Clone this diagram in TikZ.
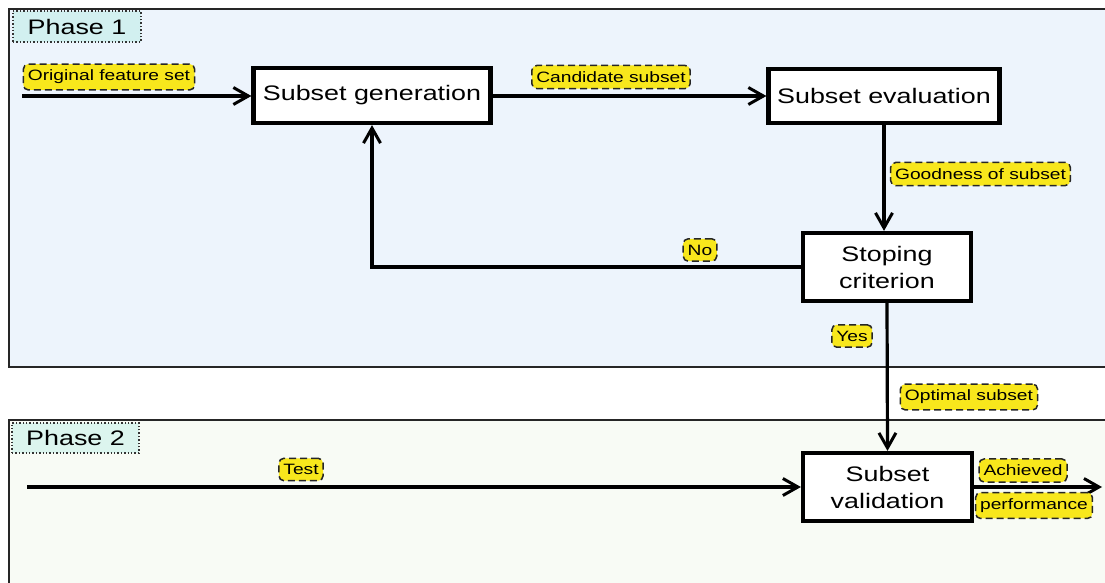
\documentclass[tikz,border=0pt]{standalone}
\usepackage{fontspec}
\setmainfont{Liberation Sans}[FakeStretch=1.28]
\usetikzlibrary{arrows.meta}
\definecolor{phaseonebg}{HTML}{EDF4FC}
\definecolor{phasetwobg}{HTML}{F8FBF5}
\definecolor{tagonebg}{HTML}{D2F0F0}
\definecolor{tagtwobg}{HTML}{DCF5EE}
\definecolor{notebg}{HTML}{F8E71C}
\tikzset{
  panel/.style={draw=black!85, line width=1.5pt},
  phasetag/.style={draw=black!80, dotted, line width=1.4pt, inner sep=0pt,
    font=\fontsize{21}{25}\selectfont},
  procbox/.style={draw=black, fill=white, line width=4.2pt, align=center,
    inner sep=0pt, font=\fontsize{21}{27}\selectfont},
  note/.style={draw=black!85, dashed, dash pattern=on 7pt off 4pt, fill=notebg,
    rounded corners=5pt, line width=1.5pt, inner xsep=4.5pt, inner ysep=6pt,
    font=\fontsize{15}{18}\selectfont},
  flow/.style={line width=3.2pt, -{Straight Barb[length=15pt,width=17pt,line width=3pt]}}
}
\begin{document}
\begin{tikzpicture}[x=1pt,y=-1pt]
\useasboundingbox (0,0) rectangle (1105,583);
\clip (0,0) rectangle (1105,583);

% phase panels
\filldraw[panel, fill=phaseonebg] (9,9) rectangle (1115,367);
\filldraw[panel, fill=phasetwobg] (9,420) rectangle (1115,600);
\node[phasetag, fill=tagonebg, minimum width=128pt, minimum height=31pt] (ph1) at (77,26.5) {Phase 1};
\node[phasetag, fill=tagtwobg, minimum width=127pt, minimum height=30pt] (ph2) at (75.5,438) {Phase 2};

% process boxes
\node[procbox, minimum width=237pt, minimum height=55pt] (gen) at (372,95.5) {Subset generation};
\node[procbox, minimum width=231pt, minimum height=54pt] (eval) at (884,96) {Subset evaluation};
\node[procbox, minimum width=168pt, minimum height=68pt] (stop) at (887,267) {Stoping\\criterion};
\node[procbox, minimum width=169pt, minimum height=68pt] (val) at (887.5,487) {Subset\\validation};

% free ends
\coordinate (inA) at (22,96);
\coordinate (inB) at (27,487);
\coordinate (outA) at (1102,487);

% connectors
\draw[flow] (inA) -- (gen.west |- inA);
\draw[flow] (gen.east |- inA) -- (eval.west |- inA);
\draw[flow] (eval.south) -- (eval.south |- stop.north);
\draw[flow] (stop.west) -| (gen.south);
\draw[flow] (stop.south) -- (val.north);
\draw[flow] (inB) -- (val.west);
\draw[flow] (val.east) -- (outA);

% connector labels
\node[note] (lorig) at (109,77) {Original feature set};
\node[note] (lcand) at (611,77) {Candidate subset};
\node[note] (lgood) at (980.5,174) {Goodness of subset};
\node[note] (lno) at (700,250) {No};
\node[note] (lyes) at (852,336) {Yes};
\node[note] (lopt) at (969,397) {Optimal subset};
\node[note] (ltest) at (301,469.5) {Test};
\node[note] (lach) at (1023,470.5) {Achieved};
\node[note] (lperf) at (1034,505.5) {performance};
\end{tikzpicture}
\end{document}
